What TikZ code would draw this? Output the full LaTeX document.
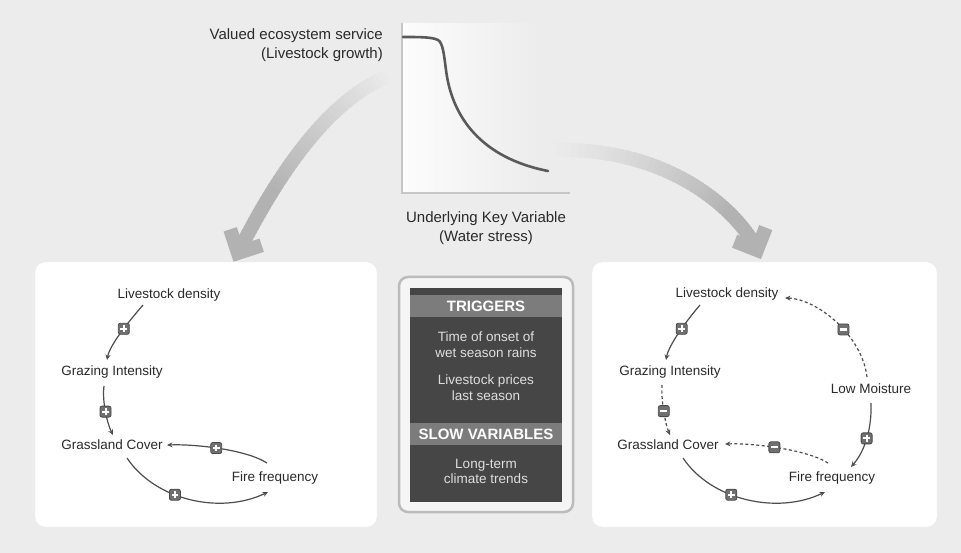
\documentclass[tikz,border=0pt]{standalone}
\usepackage{fontspec}
\setmainfont{Liberation Sans}
\usetikzlibrary{arrows.meta,calc}
\definecolor{bgcol}{HTML}{ECECEC}
\definecolor{bigarr}{HTML}{B2B2B2}
\definecolor{axiscol}{HTML}{C6C6C6}
\definecolor{curvecol}{HTML}{5A5A5A}
\definecolor{linkcol}{HTML}{4E4E4E}
\definecolor{signfill}{HTML}{707070}
\definecolor{signdraw}{HTML}{4A4A4A}
\definecolor{boxfill}{HTML}{F5F5F5}
\definecolor{boxborder}{HTML}{BBBBBB}
\definecolor{darkbox}{HTML}{464646}
\definecolor{bandcol}{HTML}{7C7C7C}
\definecolor{txtcol}{HTML}{2A2A2A}
\definecolor{lighttxt}{HTML}{DEDEDE}
\begin{document}
\begin{tikzpicture}[x=1pt,y=-1pt,
  lbl/.style={font=\fontsize{13.5}{15}\selectfont, text=txtcol, inner sep=2pt},
  toplbl/.style={font=\fontsize{15}{18.5}\selectfont, text=txtcol, inner sep=0pt},
  boxtxt/.style={font=\fontsize{13.5}{15.5}\selectfont, text=lighttxt, align=center, inner sep=0pt},
  bandtxt/.style={font=\bfseries\fontsize{15}{17}\selectfont, text=white, inner sep=0pt},
  sgn/.style={solid, rectangle, minimum size=11pt, inner sep=0pt, fill=signfill, draw=signdraw, line width=0.8pt, rounded corners=2pt},
  plussign/.style={sgn, path picture={\draw[solid, white, line width=2pt, arrows=-, line cap=butt]
     ($(path picture bounding box.center)+(-3.3,0)$) -- ++(6.6,0)
     ($(path picture bounding box.center)+(0,-3.3)$) -- ++(0,6.6);}},
  minussign/.style={sgn, path picture={\draw[solid, white, line width=2.2pt, arrows=-, line cap=butt]
     ($(path picture bounding box.center)+(-3.3,0)$) -- ++(6.6,0);}},
  link/.style={draw=linkcol, line width=1.2pt, -{Stealth[length=5.5pt,width=5pt]}},
  neglink/.style={link, dash pattern=on 3pt off 2.5pt},
  panel/.style={fill=white, draw=white!92!black, line width=0.4pt, rounded corners=10pt}
]
\fill[bgcol] (0,0) rectangle (961,553);
\useasboundingbox (0,0) rectangle (961,553);

% ---------- chart ----------
\shade[left color=white!85!bgcol, right color=bgcol] (403,24) rectangle (540,192);
\draw[axiscol, line width=2pt] (402,23) -- (402,193) -- (570,193);
\draw[curvecol, line width=2.6pt, line cap=round]
  (403,37) .. controls (420,37) and (432,37) .. (438,40)
  .. controls (443,43) and (444,55) .. (446,70)
  .. controls (452,118) and (482,158) .. (548,171);
\node[toplbl, anchor=east, align=right] (service) at (383,45) {Valued ecosystem service\\(Livestock growth)};
\node[toplbl, align=center] (keyvar) at (486,228) {Underlying Key Variable\\(Water stress)};

% ---------- big arrows ----------
\coordinate (la0) at (392,75);
\coordinate (la1) at (320,100);
\coordinate (la2) at (265,200);
\coordinate (la3) at (238,253);
\foreach \i in {0,...,49}{
  \pgfmathsetmacro\ta{\i/50}
  \pgfmathsetmacro\tb{min(1,(\i+1.6)/50)}
  \pgfmathsetmacro\pc{min(100,\i*3)}
  \path (la0) .. controls (la1) and (la2) .. (la3) coordinate[pos=\ta] (qa) coordinate[pos=\tb] (qb);
  \draw[line width=14pt, bigarr!\pc!bgcol] (qa) -- (qb);
}
\draw[bigarr, line width=14pt] ($(la3)+(23.7,-7.8)$) -- (la3) -- ($(la3)+(-7.8,-23.7)$);

\coordinate (ra0) at (548,150);
\coordinate (ra1) at (680,145);
\coordinate (ra2) at (745,222);
\coordinate (ra3) at (757,250);
\foreach \i in {0,...,49}{
  \pgfmathsetmacro\ta{\i/50}
  \pgfmathsetmacro\tb{min(1,(\i+1.6)/50)}
  \pgfmathsetmacro\pc{min(100,\i*3)}
  \path (ra0) .. controls (ra1) and (ra2) .. (ra3) coordinate[pos=\ta] (qa) coordinate[pos=\tb] (qb);
  \draw[line width=14pt, bigarr!\pc!bgcol] (qa) -- (qb);
}
\draw[bigarr, line width=14pt] ($(ra3)+(8.8,-22.4)$) -- (ra3) -- ($(ra3)+(-22.4,-8.8)$);

% ---------- panels ----------
\path[panel] (35,262) rectangle (377,527);
\path[panel] (592,262) rectangle (937,527);

% ---------- middle box ----------
\draw[fill=boxfill, draw=boxborder, line width=2.5pt, rounded corners=9pt] (399,277) rectangle (573,512);
\fill[darkbox] (410,288) rectangle (562,502);
\fill[bandcol] (410,295) rectangle (562,317);
\fill[bandcol] (410,423) rectangle (562,445);
\node[bandtxt] (trig) at (486,306.5) {TRIGGERS};
\node[boxtxt] (onset) at (486,344.5) {Time of onset of\\wet season rains};
\node[boxtxt] (prices) at (486,387.5) {Livestock prices\\last season};
\node[bandtxt] (slow) at (486,434.5) {SLOW VARIABLES};
\node[boxtxt] (climate) at (486,471.5) {Long-term\\climate trends};

% ---------- left panel ----------
\node[lbl] (lld) at (169,295) {Livestock density};
\node[lbl] (lgi) at (112,372) {Grazing Intensity};
\node[lbl] (lgc) at (112,445) {Grassland Cover};
\node[lbl] (lff) at (275,478) {Fire frequency};

\draw[link] ($(lld)+(-26,10)$) .. controls +(-12,14) and +(3,-16) .. ($(lgi)+(-5,-12)$) node[plussign, pos=0.45] {};
\draw[link] ($(lgi)+(-8,14)$) .. controls +(-2,15) and +(-6,-12) .. ($(lgc)+(1,-10)$) node[plussign, pos=0.5] {};
\draw[link] ($(lff)+(-8,-15)$) .. controls +(-20,-13) and +(30,-1) .. ($(lgc)+(55,0)$) node[plussign, pos=0.54] {};
\draw[link] ($(lgc)+(15,13)$) .. controls +(28,42) and +(-48,23) .. ($(lff)+(-7,14)$) node[plussign, pos=0.4] {};

% ---------- right panel ----------
\node[lbl] (rld) at (727,294) {Livestock density};
\node[lbl] (rgi) at (670,372) {Grazing Intensity};
\node[lbl] (rlm) at (871,389) {Low Moisture};
\node[lbl] (rgc) at (668,445) {Grassland Cover};
\node[lbl] (rff) at (832,478) {Fire frequency};

\draw[link] ($(rld)+(-27,11)$) .. controls +(-12,14) and +(3,-16) .. ($(rgi)+(-4,-12)$) node[plussign, pos=0.45] {};
\draw[neglink] ($(rgi)+(-8,13)$) .. controls +(-1,15) and +(-5,-12) .. ($(rgc)+(2,-10)$) node[minussign, pos=0.5] {};
\draw[neglink] ($(rlm)+(-4,-12)$) .. controls +(-5,-42) and +(32,1) .. ($(rld)+(58,4)$) node[minussign, pos=0.42] {};
\draw[link] ($(rlm)+(0,14)$) .. controls +(1,25) and +(14,-16) .. ($(rff)+(19,-11)$) node[plussign, pos=0.5] {};
\draw[neglink] ($(rff)+(-4,-15)$) .. controls +(-20,-13) and +(30,-1) .. ($(rgc)+(57,-1)$) node[minussign, pos=0.55] {};
\draw[link] ($(rgc)+(15,13)$) .. controls +(28,42) and +(-48,23) .. ($(rff)+(-7,14)$) node[plussign, pos=0.4] {};
\end{tikzpicture}
\end{document}
